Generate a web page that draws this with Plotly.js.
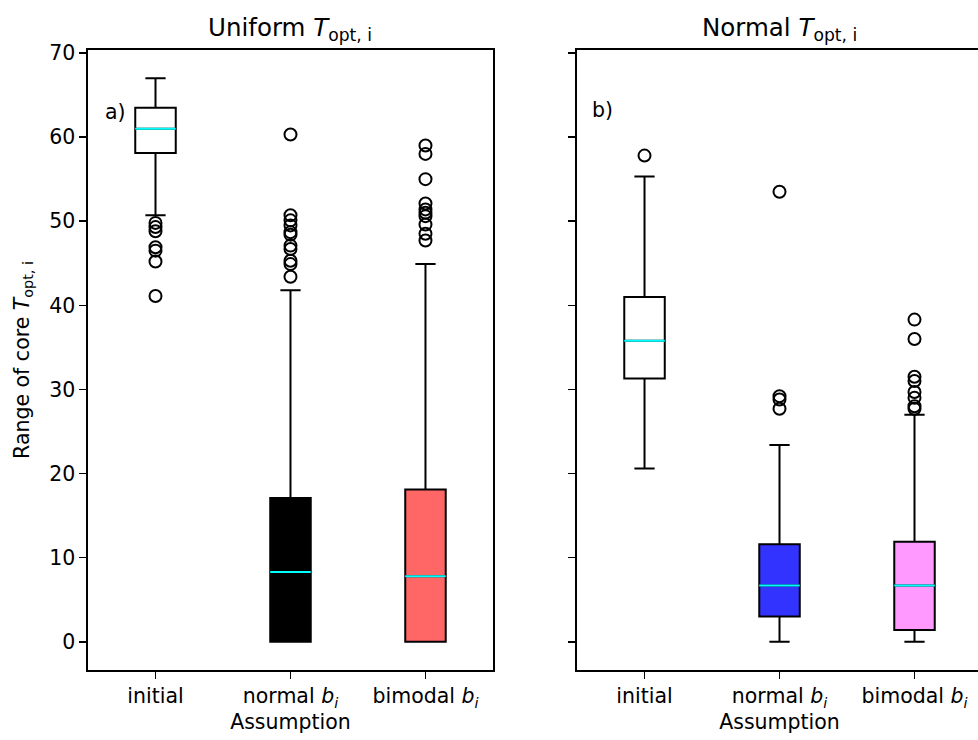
<!DOCTYPE html>
<html>
<head>
<meta charset="utf-8">
<script src="https://cdn.plot.ly/plotly-3.0.1.min.js"></script>
<style>
html, body { margin: 0; padding: 0; overflow: hidden; background: #fff; }
#chart { width: 985px; height: 740px; }
</style>
</head>
<body>
<div id="chart"></div>
<script>
// ---- data ----
const categories = ['initial', 'normal <i>b<sub>i</sub></i>', 'bimodal <i>b<sub>i</sub></i>'];
const positions = [1, 2, 3];

// Uniform T_opt,i (panel a)
const uniLower  = [50.7, 0, 0];
const uniQ1     = [58.1, 0, 0];
const uniMedian = [61.0, 8.3, 7.8];
const uniQ3     = [63.5, 17.1, 18.1];
const uniUpper  = [67.0, 41.8, 44.9];
const uniOutInitial = [49.8, 49.3, 48.8, 46.9, 46.5, 45.2, 41.1];
const uniOutNormal  = [60.3, 50.7, 50.1, 49.5, 48.7, 48.4, 47.1, 46.7, 45.3, 44.9, 43.4];
const uniOutBimodal = [59.0, 58.0, 55.0, 52.1, 51.4, 51.0, 50.6, 49.6, 48.5, 47.7];

// Normal T_opt,i (panel b)
const norLower  = [20.6, 0, 0];
const norQ1     = [31.3, 3.0, 1.4];
const norMedian = [35.8, 6.7, 6.7];
const norQ3     = [41.0, 11.6, 11.9];
const norUpper  = [55.3, 23.4, 27.0];
const norOutInitial = [57.8];
const norOutNormal  = [53.5, 29.2, 28.8, 27.7];
const norOutBimodal = [38.3, 36.0, 31.5, 31.0, 29.7, 29.0, 28.0, 27.7];

const yTicks = [0, 10, 20, 30, 40, 50, 60, 70];

// ---- styles ----
const uniFill = ['#ffffff', '#000000', '#ff6666'];
const norFill = ['#ffffff', '#3333ff', '#ff99ff'];
const FONT = 'DejaVu Sans, Verdana, sans-serif';
const FS = 20.5;
const TFS = 24.5;

function panel(lower, q1, med, q3, upper, outs, fills, xa, ya) {
  const traces = [];
  for (let i = 0; i < positions.length; i++) {
    traces.push({
      type: 'box', x: [positions[i]],
      lowerfence: [lower[i]], q1: [q1[i]], median: [med[i]], q3: [q3[i]], upperfence: [upper[i]],
      width: 0.3, whiskerwidth: 0.5, boxpoints: false,
      fillcolor: fills[i], line: {color: '#000000', width: 2},
      xaxis: xa, yaxis: ya, showlegend: false, hoverinfo: 'skip'
    });
    // cyan median line
    traces.push({
      type: 'box', x: [positions[i]],
      lowerfence: [med[i]], q1: [med[i]], median: [med[i]], q3: [med[i]], upperfence: [med[i]],
      width: 0.3, whiskerwidth: 0, boxpoints: false,
      fillcolor: 'rgba(0,0,0,0)', line: {color: '#00ffff', width: 2},
      xaxis: xa, yaxis: ya, showlegend: false, hoverinfo: 'skip'
    });
    traces.push({
      type: 'scatter', mode: 'markers',
      x: outs[i].map(() => positions[i]), y: outs[i],
      marker: {symbol: 'circle-open', size: 12, color: '#000000', line: {width: 2, color: '#000000'}},
      xaxis: xa, yaxis: ya, showlegend: false, hoverinfo: 'skip', cliponaxis: false
    });
  }
  return traces;
}

const data = [].concat(
  panel(uniLower, uniQ1, uniMedian, uniQ3, uniUpper, [uniOutInitial, uniOutNormal, uniOutBimodal], uniFill, 'x', 'y'),
  panel(norLower, norQ1, norMedian, norQ3, norUpper, [norOutInitial, norOutNormal, norOutBimodal], norFill, 'x2', 'y2')
);

const xCommon = {
  range: [0.5, 3.5], tickvals: positions, ticktext: categories,
  showline: true, mirror: true, linecolor: '#000', linewidth: 1.6,
  ticks: 'outside', ticklen: 7, tickwidth: 1.6, tickcolor: '#000',
  showgrid: false, zeroline: false,
  tickfont: {family: FONT, size: FS, color: '#000'},
  title: {text: 'Assumption', font: {family: FONT, size: FS, color: '#000'}, standoff: 3}
};
const yCommon = {
  range: [-3.35, 70.35], tickvals: yTicks,
  showline: true, mirror: true, linecolor: '#000', linewidth: 1.6,
  ticks: 'outside', ticklen: 7, tickwidth: 1.6, tickcolor: '#000',
  showgrid: false, zeroline: false,
  tickfont: {family: FONT, size: FS, color: '#000'}
};

const layout = {
  width: 985, height: 740,
  margin: {l: 88, r: 3, t: 50, b: 70},
  paper_bgcolor: '#fff', plot_bgcolor: '#fff',
  boxmode: 'overlay',
  font: {family: FONT, size: FS, color: '#000'},
  xaxis: Object.assign({}, xCommon, {domain: [0, 0.453], anchor: 'y'}),
  xaxis2: Object.assign({}, xCommon, {domain: [0.547, 1], anchor: 'y2'}),
  yaxis: Object.assign({}, yCommon, {domain: [0, 1], anchor: 'x',
    title: {text: 'Range of core <i>T</i><sub>opt, i</sub>', font: {family: FONT, size: FS, color: '#000'}, standoff: 14}}),
  yaxis2: Object.assign({}, yCommon, {domain: [0, 1], anchor: 'x2', showticklabels: false}),
  annotations: [
    {text: 'Uniform <i>T</i><sub>opt, i</sub>', xref: 'x domain', yref: 'y domain', x: 0.5, y: 1,
     xanchor: 'center', yanchor: 'bottom', yshift: 3, showarrow: false, font: {family: FONT, size: TFS, color: '#000'}},
    {text: 'Normal <i>T</i><sub>opt, i</sub>', xref: 'x2 domain', yref: 'y2 domain', x: 0.5, y: 1,
     xanchor: 'center', yanchor: 'bottom', yshift: 3, showarrow: false, font: {family: FONT, size: TFS, color: '#000'}},
    {text: 'a)', xref: 'x domain', yref: 'y domain', x: 0.067, y: 0.9,
     xanchor: 'center', yanchor: 'middle', showarrow: false, font: {family: FONT, size: FS, color: '#000'}},
    {text: 'b)', xref: 'x2 domain', yref: 'y2 domain', x: 0.064, y: 0.903,
     xanchor: 'center', yanchor: 'middle', showarrow: false, font: {family: FONT, size: FS, color: '#000'}}
  ]
};

Plotly.newPlot('chart', data, layout, {displayModeBar: false, staticPlot: true});
</script>
</body>
</html>
